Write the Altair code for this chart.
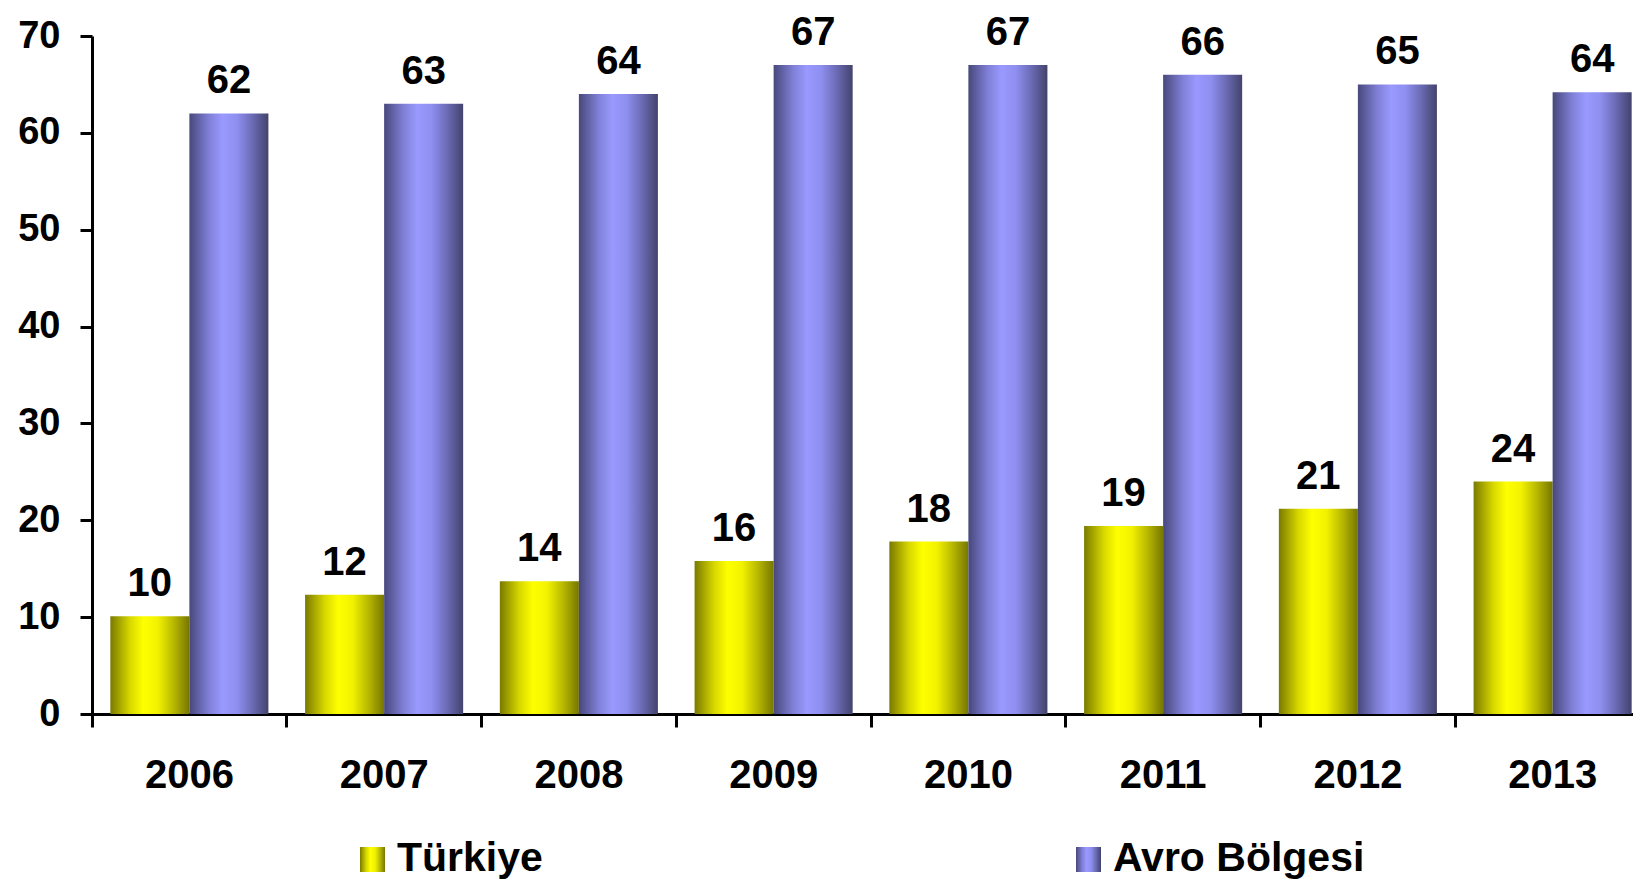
import altair as alt
import pandas as pd

# ---- data ----
years = ["2006", "2007", "2008", "2009", "2010", "2011", "2012", "2013"]
series_names = ["Türkiye", "Avro Bölgesi"]
turkiye = [10.1, 12.3, 13.7, 15.8, 17.8, 19.4, 21.2, 24.0]
avro = [62.0, 63.0, 64.0, 67.0, 67.0, 66.0, 65.0, 64.2]
y_ticks = [0, 10, 20, 30, 40, 50, 60, 70]

rows = []
for i, yr in enumerate(years):
    rows.append({"year": yr, "series": series_names[0], "value": turkiye[i]})
    rows.append({"year": yr, "series": series_names[1], "value": avro[i]})
df = pd.DataFrame(rows)

FONT = "Liberation Sans"
W, H = 1541, 678
STEP = 194.75


def grad(stops):
    return alt.LinearGradient(
        gradient="linear",
        stops=[alt.GradientStop(offset=o, color=c) for o, c in stops],
        x1=0, x2=1, y1=0, y2=0,
    )


gradients = {
    "Türkiye": grad([(0, "#7a7a00"), (0.25, "#d8d800"), (0.42, "#ffff00"),
                     (0.6, "#f2f200"), (0.8, "#b8b800"), (1, "#767600")]),
    "Avro Bölgesi": grad([(0, "#48487c"), (0.25, "#8080d8"), (0.42, "#9999ff"),
                          (0.6, "#8f8ff0"), (0.8, "#6a6ab4"), (1, "#43436c")]),
}

x_enc = alt.X(
    "year:N", sort=years,
    scale=alt.Scale(range=[0, STEP * len(years)], paddingInner=0, paddingOuter=0),
    axis=alt.Axis(title=None, labelAngle=0, bandPosition=0,
                  tickSize=13, tickWidth=3, tickColor="black",
                  domainWidth=3, domainColor="black",
                  labelFont=FONT, labelFontSize=40, labelFontWeight="bold",
                  labelColor="black", labelPadding=28),
)
xo_enc = alt.XOffset(
    "series:N", sort=series_names,
    scale=alt.Scale(domain=series_names, paddingInner=0, paddingOuter=0.232),
)
y_enc = alt.Y(
    "value:Q",
    scale=alt.Scale(domain=[0, 70], nice=False, zero=True),
    axis=alt.Axis(values=y_ticks, title=None, grid=False, tickSize=12, tickWidth=3,
                  tickColor="black", domainWidth=3, domainColor="black",
                  labelFont=FONT, labelFontSize=38, labelFontWeight="bold",
                  labelColor="black", labelPadding=20),
)

layers = []
for name in series_names:
    layers.append(
        alt.Chart(df).transform_filter(alt.datum.series == name)
        .mark_bar(color=gradients[name])
        .encode(x=x_enc, xOffset=xo_enc, y=y_enc)
    )

labels = alt.Chart(df).mark_text(
    baseline="alphabetic", align="center", dy=-20,
    font=FONT, fontSize=40, fontWeight="bold", color="black",
).encode(x=x_enc, xOffset=xo_enc, y=y_enc, text=alt.Text("value:Q", format=".0f"))
layers.append(labels)

# ---- custom legend (gradient swatches) ----
legend_x = {"Türkiye": 268, "Avro Bölgesi": 984}
for name in series_names:
    ldf = pd.DataFrame({"series": [name]})
    lx = legend_x[name]
    layers.append(
        alt.Chart(ldf).mark_rect(color=gradients[name]).encode(
            x=alt.value(lx), x2=alt.value(lx + 25),
            y=alt.value(811), y2=alt.value(836),
        )
    )
    layers.append(
        alt.Chart(ldf).mark_text(
            align="left", baseline="alphabetic", font=FONT, fontSize=41,
            fontWeight="bold", color="black",
        ).encode(x=alt.value(lx + 37), y=alt.value(835), text="series:N")
    )

chart = alt.layer(*layers).properties(
    width=W, height=H,
    autosize=alt.AutoSizeParams(type="none"),
    padding={"left": 84, "top": 28, "right": 0, "bottom": 167},
    background="white",
).configure_view(stroke=None)

chart.save("out.html", embed_options={"renderer": "svg", "actions": False})
